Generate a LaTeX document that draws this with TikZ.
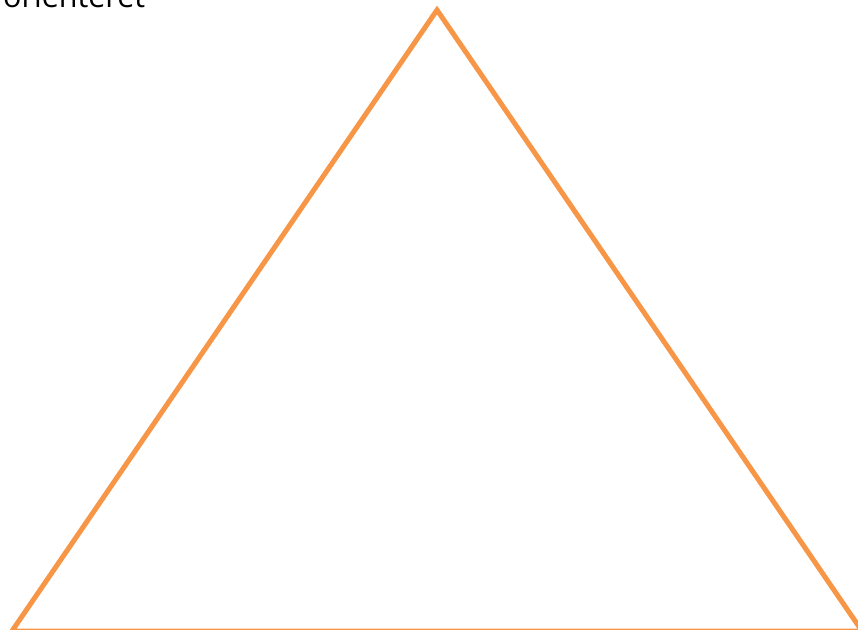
\documentclass[tikz,border=0pt]{standalone}
\usepackage{fontspec}
\setmainfont{Open Sans}
\definecolor{triorange}{HTML}{F79646}
\tikzset{tri/.style={draw=triorange, line width=5pt, line join=miter}}
\begin{document}
\begin{tikzpicture}[x=1pt,y=-1pt]
\useasboundingbox (0,0) rectangle (858,629);
\coordinate (apex) at (437,10);
\coordinate (bl) at (12,631);
\coordinate (br) at (862,631);
\draw[tri] (apex) -- (br) -- (bl) -- cycle;
\node[anchor=base west, inner sep=0pt, font=\fontsize{30.5}{34}\selectfont] (lbl) at (3,7.5) {orienteret};
\end{tikzpicture}
\end{document}
